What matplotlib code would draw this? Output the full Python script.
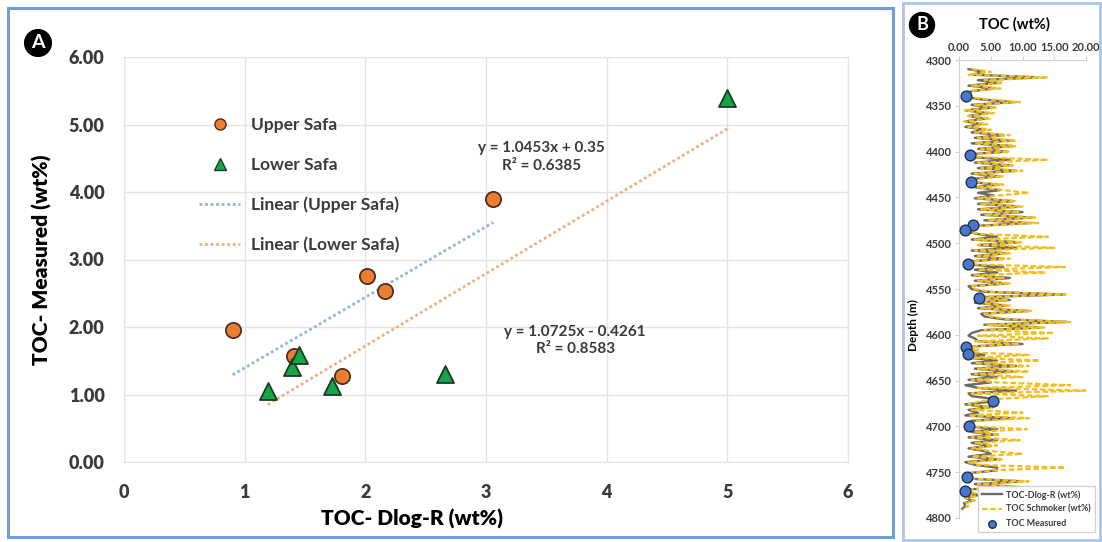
import numpy as np
import matplotlib
matplotlib.use("Agg")
import matplotlib.pyplot as plt
from matplotlib.lines import Line2D
from matplotlib.patches import Rectangle

plt.rcParams['font.family'] = ['Lato', 'DejaVu Sans']

# ---------------- Panel A data: cross-plot of measured vs Dlog-R TOC ----------------
upper_dlogr = [0.90, 1.41, 2.01, 2.16, 1.81, 3.06]
upper_meas = [1.95, 1.57, 2.75, 2.54, 1.28, 3.89]
lower_dlogr = [1.19, 1.39, 1.45, 1.72, 2.66, 5.00]
lower_meas = [1.05, 1.41, 1.59, 1.13, 1.30, 5.40]

upper_fit = (1.0453, 0.35, 0.6385)
lower_fit = (1.0725, -0.4261, 0.8583)

# ---------------- Panel B data: TOC log vs depth ----------------
depth_top, depth_step = 4310, 3
toc_dlogr = [
    1.5, 4.0, 2.0, 12.5, 3.0, 6.0, 1.5, 5.5, 2.0, 1.0,
    0.8, 3.5, 8.5, 2.0, 5.0, 1.0, 4.5, 1.5, 4.0, 1.0,
    3.5, 1.0, 4.0, 2.0, 7.0, 2.5, 8.0, 2.0, 8.5, 3.0,
    7.5, 1.5, 2.0, 8.0, 2.5, 8.0, 3.0, 9.0, 2.0, 6.0,
    2.0, 1.5, 6.0, 2.5, 6.5, 3.0, 5.5, 2.5, 8.5, 3.0,
    9.5, 3.0, 10.0, 3.5, 11.5, 4.0, 11.0, 3.0, 1.5, 1.0,
    3.0, 6.0, 2.0, 9.5, 3.0, 9.0, 2.0, 7.5, 2.5, 7.0,
    1.5, 1.0, 7.0, 2.5, 6.0, 2.0, 8.0, 2.5, 7.5, 1.5,
    2.0, 4.0, 16.5, 3.0, 8.0, 2.5, 7.5, 3.0, 11.0, 3.5,
    4.0, 7.0, 17.0, 4.0, 13.0, 3.5, 2.0, 1.5, 2.5, 3.0,
    10.0, 1.0, 2.0, 1.5, 4.0, 1.5, 6.0, 2.0, 9.0, 2.5,
    8.5, 2.0, 6.0, 1.5, 5.0, 1.0, 3.0, 9.0, 1.5, 2.0,
    5.5, 5.0, 1.0, 5.0, 1.5, 3.0, 1.0, 8.0, 2.0, 1.5,
    1.5, 6.0, 2.0, 5.5, 1.5, 6.0, 2.0, 5.0, 1.5, 4.0,
    5.0, 1.5, 6.0, 1.0, 2.5, 6.0, 6.0, 1.5, 1.0, 1.5,
    10.0, 2.5, 9.0, 1.0, 1.5, 3.0, 1.0, 2.0, 0.8, 1.0, 0.5,
]
toc_schmoker = [
    2.0, 5.0, 1.5, 14.0, 4.0, 7.0, 2.0, 6.5, 1.5, 1.0,
    1.0, 4.5, 9.6, 2.5, 6.0, 1.0, 5.5, 1.5, 5.0, 0.8,
    4.5, 1.5, 5.0, 2.5, 8.0, 3.0, 9.0, 2.5, 9.0, 3.5,
    8.0, 2.0, 3.0, 14.0, 3.0, 8.5, 3.5, 10.0, 2.5, 7.0,
    2.5, 2.0, 7.0, 3.0, 7.0, 11.0, 6.0, 3.0, 9.0, 3.5,
    10.0, 3.5, 9.5, 4.0, 12.0, 4.5, 12.5, 3.5, 2.0, 1.0,
    3.5, 14.0, 2.5, 10.0, 3.0, 15.0, 2.5, 8.0, 3.0, 8.0,
    2.0, 1.5, 16.7, 3.0, 13.6, 2.5, 7.0, 3.0, 8.0, 2.0,
    2.5, 5.0, 16.8, 3.5, 7.5, 3.0, 8.0, 3.5, 11.5, 4.0,
    5.0, 8.0, 17.5, 4.5, 13.5, 4.0, 15.0, 3.0, 14.0, 2.5,
    9.5, 1.0, 3.0, 1.5, 11.0, 2.0, 12.7, 2.5, 11.0, 3.0,
    11.0, 2.5, 10.0, 2.0, 6.0, 17.5, 3.0, 20.5, 2.0, 14.0,
    6.0, 3.0, 1.5, 5.5, 2.0, 10.0, 1.5, 11.0, 2.5, 2.0,
    2.0, 10.7, 2.5, 6.5, 2.0, 9.6, 2.5, 6.0, 2.0, 5.0,
    10.0, 2.0, 7.0, 1.5, 3.0, 16.7, 5.0, 2.0, 1.5, 2.0,
    11.0, 3.0, 9.5, 1.5, 2.0, 3.5, 1.0, 2.5, 1.0, 1.5, 0.5,
]
log_depth = depth_top + depth_step * np.arange(len(toc_dlogr))

meas_toc = [1.1, 1.7, 1.9, 2.2, 0.9, 1.4, 3.1, 1.1, 1.4, 5.4, 1.6, 1.3, 0.9]
meas_depth = [4339, 4404, 4433, 4480, 4486, 4523, 4560, 4613, 4621, 4672, 4700, 4755, 4770]

# ---------------- figure layout (pixel helpers) ----------------
W, H = 1102, 542
fig = plt.figure(figsize=(W / 100, H / 100), dpi=100)


def fx(px):
    return px / W


def fy(py):
    return 1 - py / H


def box(l, t, r, b):
    return [fx(l), fy(b), (r - l) / W, (b - t) / H]


frame_col = '#6f9fd6'
fig.patches.append(Rectangle((fx(8), fy(537)), (893 - 8) / W, (537 - 8) / H,
                             transform=fig.transFigure, fill=False,
                             ec=frame_col, lw=2.2))
fig.patches.append(Rectangle((fx(903), fy(540)), (1100 - 903) / W, (540 - 3) / H,
                             transform=fig.transFigure, fill=False,
                             ec='#a9c6e8', lw=2.0))

txt_col = '#3a3a3a'
grid_col = '#e3e3e3'

# ---------------- Panel A ----------------
axA = fig.add_axes(box(124, 57, 848, 462))
axA.set_xlim(0, 6)
axA.set_ylim(0, 6)
axA.set_xticks(range(0, 7))
axA.set_yticks(range(0, 7))
axA.set_yticklabels([f'{v:.2f}' for v in range(0, 7)])
axA.grid(True, color=grid_col, lw=1.0)
axA.set_axisbelow(True)
for s in axA.spines.values():
    s.set_color(grid_col)
axA.tick_params(length=0, labelsize=13, labelcolor=txt_col)
axA.tick_params(axis='x', pad=16)
axA.tick_params(axis='y', pad=14)
for lab in axA.get_xticklabels() + axA.get_yticklabels():
    lab.set_fontweight('heavy')

# trend lines from the fitted equations
xu = np.array([min(upper_dlogr), max(upper_dlogr)])
xl = np.array([min(lower_dlogr), max(lower_dlogr)])
ln_u, = axA.plot(xu, upper_fit[0] * xu + upper_fit[1], ls=(0, (1, 1)),
                 color='#8fb6dc', lw=2.0)
ln_l, = axA.plot(xl, lower_fit[0] * xl + lower_fit[1], ls=(0, (1, 1)),
                 color='#f0b07a', lw=2.0)

sc_u = axA.scatter(upper_dlogr, upper_meas, s=120, marker='o', c='#ed7d31',
                   edgecolors='#4a3020', linewidths=1.3, zorder=3)
sc_l = axA.scatter(lower_dlogr, lower_meas, s=150, marker='^', c='#16a548',
                   edgecolors='#1d3a22', linewidths=1.3, zorder=3)

axA.text(3.46, 4.52, f'y = {upper_fit[0]:.4f}x + {upper_fit[1]:.2f}\nR² = {upper_fit[2]:.4f}',
         ha='center', va='center', fontsize=11, fontweight='bold', color=txt_col,
         linespacing=1.35)
axA.text(3.74, 1.80, f'y = {lower_fit[0]:.4f}x - {abs(lower_fit[1]):.4f}\nR² = {lower_fit[2]:.4f}',
         ha='center', va='center', fontsize=11, fontweight='bold', color=txt_col,
         linespacing=1.35)

h_u = Line2D([], [], ls='none', marker='o', ms=8, mfc='#ed7d31', mec='#4a3020', mew=1)
h_l = Line2D([], [], ls='none', marker='^', ms=8, mfc='#16a548', mec='#1d3a22', mew=1)
h_lu = Line2D([], [], ls=(0, (1, 1)), color='#8fb6dc', lw=2)
h_ll = Line2D([], [], ls=(0, (1, 1)), color='#f0b07a', lw=2)
legA = axA.legend([h_u, h_l, h_lu, h_ll],
                  ['Upper Safa', 'Lower Safa', 'Linear (Upper Safa)', 'Linear (Lower Safa)'],
                  loc='upper left', bbox_to_anchor=(fx(190), fy(108)),
                  bbox_transform=fig.transFigure, frameon=False,
                  fontsize=12.5, handlelength=2.4, handletextpad=0.6,
                  labelspacing=1.38, borderpad=0)
for t in legA.get_texts():
    t.set_fontweight('bold')
    t.set_color(txt_col)

fig.text(fx(42), fy(260), 'TOC- Measured (wt%)', rotation=90, ha='center', va='center',
         fontsize=15, fontweight='heavy', color='black')
fig.text(fx(412), fy(519), 'TOC- Dlog-R (wt%)', ha='center', va='center',
         fontsize=15, fontweight='heavy', color='black')
fig.text(fx(38), fy(43), 'A', ha='center', va='center', fontsize=14, fontweight='bold',
         color='white', bbox=dict(boxstyle='circle,pad=0.25', fc='black', ec='black'))

# ---------------- Panel B ----------------
axB = fig.add_axes(box(959, 60, 1086, 518))
axB.set_xlim(0, 20)
axB.set_ylim(4800, 4300)
axB.xaxis.tick_top()
axB.set_xticks([0, 5, 10, 15, 20])
axB.set_xticklabels([f'{v:.2f}' for v in [0, 5, 10, 15, 20]])
axB.set_yticks(range(4300, 4801, 50))
for side in ('right', 'bottom'):
    axB.spines[side].set_visible(False)
for side in ('left', 'top'):
    axB.spines[side].set_color('#d0d0d0')
axB.tick_params(length=3, color='#d0d0d0', labelsize=8, labelcolor=txt_col, pad=2)
for lab in axB.get_xticklabels() + axB.get_yticklabels():
    lab.set_fontweight('bold')

lg_d, = axB.plot(toc_dlogr, log_depth, color='#6a6a6a', lw=1.7)
lg_s, = axB.plot(toc_schmoker, log_depth, color='#f3bf1f', lw=1.6, ls=(0, (2.5, 1.2)))
sc_m = axB.scatter(meas_toc, meas_depth, s=60, c='#4a78c8', edgecolors='#1f3057',
                   linewidths=1.0, zorder=4)

legB = axB.legend([lg_d, lg_s, sc_m], ['TOC-Dlog-R (wt%)', 'TOC Schmoker (wt%)', 'TOC Measured'],
                  loc='upper left', bbox_to_anchor=(fx(978), fy(486)),
                  bbox_transform=fig.transFigure, fontsize=6.4, frameon=True,
                  fancybox=False, edgecolor='#d0d0d0', framealpha=0.95,
                  handlelength=2.3, handletextpad=0.4, labelspacing=0.6,
                  borderpad=0.45, borderaxespad=0, markerscale=0.7)
for t in legB.get_texts():
    t.set_fontweight('bold')
    t.set_color(txt_col)

fig.text(fx(1014), fy(24), 'TOC (wt%)', ha='center', va='center', fontsize=10.5,
         fontweight='bold', color='black')
fig.text(fx(913), fy(325), 'Depth (m)', rotation=90, ha='center', va='center',
         fontsize=8.5, fontweight='bold', color='black')
fig.text(fx(922), fy(25), 'B', ha='center', va='center', fontsize=13, fontweight='bold',
         color='white', bbox=dict(boxstyle='circle,pad=0.22', fc='black', ec='black'))

fig.savefig('out.png', dpi=100)
